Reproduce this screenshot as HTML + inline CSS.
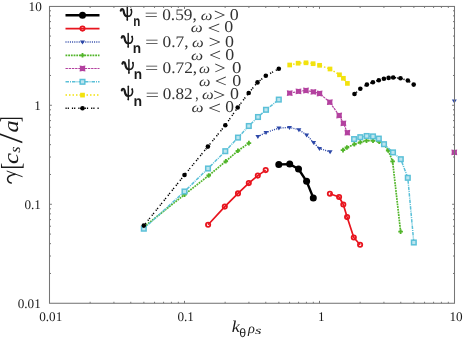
<!DOCTYPE html>
<html><head><meta charset="utf-8"><style>
html,body{margin:0;padding:0;background:#fff;}
svg{display:block;font-family:"Liberation Serif",serif;text-rendering:geometricPrecision;will-change:transform;}
</style></head><body>
<svg width="463" height="341" viewBox="0 0 463 341">
<rect width="463" height="341" fill="#fff"/>
<text transform="translate(28.54,11.20) scale(1.000,1)" font-size="13.20" font-family="Liberation Serif" fill="#1a1a1a">10</text>
<text transform="translate(34.34,109.70) scale(1.000,1)" font-size="13.20" font-family="Liberation Serif" fill="#1a1a1a">1</text>
<text transform="translate(24.40,209.00) scale(1.000,1)" font-size="13.20" font-family="Liberation Serif" fill="#1a1a1a">0.1</text>
<text transform="translate(17.70,307.80) scale(1.000,1)" font-size="13.20" font-family="Liberation Serif" fill="#1a1a1a">0.01</text>
<text transform="translate(39.20,321.20) scale(1.000,1)" font-size="13.20" font-family="Liberation Serif" fill="#1a1a1a">0.01</text>
<text transform="translate(177.40,321.20) scale(1.000,1)" font-size="13.20" font-family="Liberation Serif" fill="#1a1a1a">0.1</text>
<text transform="translate(317.94,320.80) scale(1.000,1)" font-size="13.20" font-family="Liberation Serif" fill="#1a1a1a">1</text>
<text transform="translate(449.44,320.80) scale(1.000,1)" font-size="13.20" font-family="Liberation Serif" fill="#1a1a1a">10</text>
<text transform="translate(231.78,332.00) scale(1.105,1)" font-size="16.43" font-family="Liberation Serif" font-style="italic" fill="#1a1a1a">k</text>
<text transform="translate(239.36,337.48) scale(1.009,1)" font-size="12.26" font-family="Liberation Sans" fill="#1a1a1a">θ</text>
<text transform="translate(247.96,333.00) scale(1.017,1)" font-size="14.07" font-family="Liberation Serif" font-style="italic" fill="#1a1a1a">ρ</text>
<text transform="translate(255.00,334.29) scale(1.490,1)" font-size="11.23" font-family="Liberation Serif" font-style="italic" fill="#1a1a1a">s</text>
<g transform="translate(17.6,184) rotate(-90)"><path d="M12.9 -10.5L7.4 4.6" stroke="#1a1a1a" stroke-width="0.95" fill="none" stroke-linecap="round"/><path d="M0.9 -6.4C1.6 -9.4 4.4 -10.9 6.6 -9.6C8.6 -8.3 9.2 -5.2 9.7 -2.6" stroke="#1a1a1a" stroke-width="1.5" fill="none" stroke-linecap="round"/><text transform="translate(14.50,2.13) scale(0.737,1)" font-size="27.43" font-family="Liberation Serif" fill="#1a1a1a">[</text><text transform="translate(20.04,-0.01) scale(1.172,1)" font-size="21.21" font-family="Liberation Serif" font-style="italic" fill="#1a1a1a">c</text><text transform="translate(31.20,2.75) scale(1.064,1)" font-size="15.18" font-family="Liberation Serif" font-style="italic" fill="#1a1a1a">s</text><text transform="translate(40.80,4.77) scale(1.070,1)" font-size="33.64" font-family="Liberation Serif" fill="#1a1a1a">/</text><text transform="translate(51.47,-0.02) scale(1.155,1)" font-size="21.21" font-family="Liberation Serif" font-style="italic" fill="#1a1a1a">a</text><text transform="translate(62.02,1.46) scale(0.595,1)" font-size="27.19" font-family="Liberation Serif" fill="#1a1a1a">]</text></g>
<path d="M65.5 15.3H99.5" fill="none" stroke="#000000" stroke-width="2.4"/>
<circle cx="82.50" cy="15.30" r="3.5" fill="#000000"/>
<path d="M65.5 28.6H99.5" fill="none" stroke="#e8141e" stroke-width="1.7"/>
<circle cx="82.50" cy="28.60" r="2.15" fill="none" stroke="#e8141e" stroke-width="1.8"/>
<path d="M65.5 42.0H99.5" fill="none" stroke="#2d48a8" stroke-width="1.4" stroke-dasharray="1 1.2"/>
<path d="M80.00 40.50h5.00l-2.50 4.00z" fill="#2d48a8"/>
<path d="M65.5 55.3H99.5" fill="none" stroke="#52b52a" stroke-width="1.7" stroke-dasharray="1.8 0.9"/>
<path d="M80.20 55.30h4.60M82.50 53.00v4.60" stroke="#52b52a" stroke-width="1.8"/>
<path d="M65.5 68.5H99.5" fill="none" stroke="#b3419f" stroke-width="1.2" stroke-dasharray="2.4 0.8"/>
<path d="M79.60 65.60Q82.50 66.50 85.40 65.60Q84.50 68.50 85.40 71.40Q82.50 70.50 79.60 71.40Q80.50 68.50 79.60 65.60z" fill="#b3419f"/>
<path d="M65.5 81.8H99.5" fill="none" stroke="#5bc0d8" stroke-width="1.5" stroke-dasharray="3.5 1 1 1"/>
<rect x="80.20" y="79.50" width="4.60" height="4.60" fill="#bde5ef" stroke="#5bc0d8" stroke-width="1.5"/>
<path d="M65.5 95.1H99.5" fill="none" stroke="#f2e20e" stroke-width="1.5" stroke-dasharray="1.5 2"/>
<rect x="80.15" y="92.75" width="4.70" height="4.70" fill="#f2e20e"/>
<path d="M65.5 108.3H99.5" fill="none" stroke="#000000" stroke-width="1.5" stroke-dasharray="1.2 1 1.2 3"/>
<circle cx="82.50" cy="108.30" r="2.3" fill="#000000"/>
<g transform="translate(120.30,19.60)" fill="none" stroke="#1a1a1a" stroke-linecap="round"><path d="M7.0 -13.0V0.4" stroke-width="1.5"/><path d="M6.75 0.2H7.25" stroke-width="1.2"/><path d="M0.5 -9.0C0.9 -11.0 2.9 -11.2 3.3 -8.8C3.7 -5.9 4.3 -3.3 7.0 -3.3" stroke-width="2.2"/><path d="M11.0 -10.2C11.7 -7.4 11.3 -3.3 7.6 -3.3" stroke-width="1.5"/><circle cx="10.9" cy="-9.9" r="0.85" fill="#1a1a1a" stroke="none"/></g>
<text transform="translate(133.24,25.80) scale(0.801,1)" font-size="14.48" font-family="Liberation Sans" font-weight="bold" fill="#1a1a1a">n</text>
<text transform="translate(144.61,20.31) scale(1.491,1)" font-size="16.00" font-family="Liberation Serif" fill="#333333">=</text>
<text transform="translate(162.14,19.60) scale(1.070,1)" font-size="16.20" font-family="Liberation Serif" fill="#333333">0.59,</text>
<text transform="translate(200.65,19.66) scale(1.181,1)" font-size="14.00" font-family="Liberation Serif" font-style="italic" fill="#333333">ω</text>
<text transform="translate(213.73,21.06) scale(1.155,1)" font-size="18.24" font-family="Liberation Serif" fill="#333333">></text>
<text transform="translate(229.72,19.64) scale(1.090,1)" font-size="16.45" font-family="Liberation Serif" fill="#333333">0</text>
<text transform="translate(190.64,32.26) scale(1.204,1)" font-size="14.00" font-family="Liberation Serif" font-style="italic" fill="#333333">ω</text>
<text transform="translate(207.47,33.66) scale(1.249,1)" font-size="18.24" font-family="Liberation Serif" fill="#333333"><</text>
<text transform="translate(224.32,32.24) scale(1.090,1)" font-size="16.45" font-family="Liberation Serif" fill="#333333">0</text>
<g transform="translate(121.20,46.60)" fill="none" stroke="#1a1a1a" stroke-linecap="round"><path d="M7.0 -13.0V0.4" stroke-width="1.5"/><path d="M6.75 0.2H7.25" stroke-width="1.2"/><path d="M0.5 -9.0C0.9 -11.0 2.9 -11.2 3.3 -8.8C3.7 -5.9 4.3 -3.3 7.0 -3.3" stroke-width="2.2"/><path d="M11.0 -10.2C11.7 -7.4 11.3 -3.3 7.6 -3.3" stroke-width="1.5"/><circle cx="10.9" cy="-9.9" r="0.85" fill="#1a1a1a" stroke="none"/></g>
<text transform="translate(132.70,52.80) scale(0.944,1)" font-size="14.48" font-family="Liberation Sans" font-weight="bold" fill="#1a1a1a">n</text>
<text transform="translate(144.89,47.31) scale(1.518,1)" font-size="16.00" font-family="Liberation Serif" fill="#333333">=</text>
<text transform="translate(162.54,46.60) scale(1.070,1)" font-size="16.20" font-family="Liberation Serif" fill="#333333">0.7,</text>
<text transform="translate(192.05,46.66) scale(1.181,1)" font-size="14.00" font-family="Liberation Serif" font-style="italic" fill="#333333">ω</text>
<text transform="translate(208.47,48.06) scale(1.225,1)" font-size="18.24" font-family="Liberation Serif" fill="#333333">></text>
<text transform="translate(224.92,46.64) scale(1.090,1)" font-size="16.45" font-family="Liberation Serif" fill="#333333">0</text>
<text transform="translate(191.03,59.56) scale(1.226,1)" font-size="14.00" font-family="Liberation Serif" font-style="italic" fill="#333333">ω</text>
<text transform="translate(208.93,60.96) scale(1.178,1)" font-size="18.24" font-family="Liberation Serif" fill="#333333"><</text>
<text transform="translate(225.32,59.54) scale(1.090,1)" font-size="16.45" font-family="Liberation Serif" fill="#333333">0</text>
<g transform="translate(121.90,72.70)" fill="none" stroke="#1a1a1a" stroke-linecap="round"><path d="M7.0 -13.0V0.4" stroke-width="1.5"/><path d="M6.75 0.2H7.25" stroke-width="1.2"/><path d="M0.5 -9.0C0.9 -11.0 2.9 -11.2 3.3 -8.8C3.7 -5.9 4.3 -3.3 7.0 -3.3" stroke-width="2.2"/><path d="M11.0 -10.2C11.7 -7.4 11.3 -3.3 7.6 -3.3" stroke-width="1.5"/><circle cx="10.9" cy="-9.9" r="0.85" fill="#1a1a1a" stroke="none"/></g>
<text transform="translate(133.70,78.90) scale(0.944,1)" font-size="14.48" font-family="Liberation Sans" font-weight="bold" fill="#1a1a1a">n</text>
<text transform="translate(144.92,73.41) scale(1.477,1)" font-size="16.00" font-family="Liberation Serif" fill="#333333">=</text>
<text transform="translate(162.54,72.70) scale(1.070,1)" font-size="16.20" font-family="Liberation Serif" fill="#333333">0.72,</text>
<text transform="translate(199.08,72.76) scale(1.113,1)" font-size="14.00" font-family="Liberation Serif" font-style="italic" fill="#333333">ω</text>
<text transform="translate(214.17,74.16) scale(1.107,1)" font-size="18.24" font-family="Liberation Serif" fill="#333333">></text>
<text transform="translate(231.88,72.74) scale(1.148,1)" font-size="16.45" font-family="Liberation Serif" fill="#333333">0</text>
<text transform="translate(199.06,85.96) scale(1.158,1)" font-size="14.00" font-family="Liberation Serif" font-style="italic" fill="#333333">ω</text>
<text transform="translate(214.73,87.36) scale(1.178,1)" font-size="18.24" font-family="Liberation Serif" fill="#333333"><</text>
<text transform="translate(232.32,85.94) scale(1.090,1)" font-size="16.45" font-family="Liberation Serif" fill="#333333">0</text>
<g transform="translate(121.30,99.30)" fill="none" stroke="#1a1a1a" stroke-linecap="round"><path d="M7.0 -13.0V0.4" stroke-width="1.5"/><path d="M6.75 0.2H7.25" stroke-width="1.2"/><path d="M0.5 -9.0C0.9 -11.0 2.9 -11.2 3.3 -8.8C3.7 -5.9 4.3 -3.3 7.0 -3.3" stroke-width="2.2"/><path d="M11.0 -10.2C11.7 -7.4 11.3 -3.3 7.6 -3.3" stroke-width="1.5"/><circle cx="10.9" cy="-9.9" r="0.85" fill="#1a1a1a" stroke="none"/></g>
<text transform="translate(133.47,105.50) scale(0.972,1)" font-size="14.48" font-family="Liberation Sans" font-weight="bold" fill="#1a1a1a">n</text>
<text transform="translate(145.40,100.01) scale(1.504,1)" font-size="16.00" font-family="Liberation Serif" fill="#333333">=</text>
<text transform="translate(162.65,99.30) scale(1.060,1)" font-size="16.20" font-family="Liberation Serif" fill="#333333">0.82</text>
<text transform="translate(195.19,99.28) scale(0.821,1)" font-size="16.35" font-family="Liberation Serif" fill="#333333">,</text>
<text transform="translate(202.05,99.36) scale(1.181,1)" font-size="14.00" font-family="Liberation Serif" font-style="italic" fill="#333333">ω</text>
<text transform="translate(213.09,100.76) scale(1.202,1)" font-size="18.24" font-family="Liberation Serif" fill="#333333">></text>
<text transform="translate(229.92,99.34) scale(1.090,1)" font-size="16.45" font-family="Liberation Serif" fill="#333333">0</text>
<text transform="translate(191.54,112.26) scale(1.215,1)" font-size="14.00" font-family="Liberation Serif" font-style="italic" fill="#333333">ω</text>
<text transform="translate(208.04,113.66) scale(1.272,1)" font-size="18.24" font-family="Liberation Serif" fill="#333333"><</text>
<text transform="translate(225.14,112.24) scale(1.061,1)" font-size="16.45" font-family="Liberation Serif" fill="#333333">0</text>
<path d="M278.80 164.40L289.70 164.10L298.50 169.00L306.60 181.30L313.30 197.90" fill="none" stroke="#000000" stroke-width="2.4" stroke-linejoin="round"/>
<circle cx="278.80" cy="164.40" r="3.5" fill="#000000"/>
<circle cx="289.70" cy="164.10" r="3.5" fill="#000000"/>
<circle cx="298.50" cy="169.00" r="3.5" fill="#000000"/>
<circle cx="306.60" cy="181.30" r="3.5" fill="#000000"/>
<circle cx="313.30" cy="197.90" r="3.5" fill="#000000"/>
<path d="M208.10 224.80L224.80 206.60L238.00 193.40L248.80 183.10L257.80 175.60L265.70 170.10" fill="none" stroke="#e8141e" stroke-width="1.7" stroke-linejoin="round"/>
<circle cx="208.10" cy="224.80" r="2.15" fill="none" stroke="#e8141e" stroke-width="1.8"/>
<circle cx="224.80" cy="206.60" r="2.15" fill="none" stroke="#e8141e" stroke-width="1.8"/>
<circle cx="238.00" cy="193.40" r="2.15" fill="none" stroke="#e8141e" stroke-width="1.8"/>
<circle cx="248.80" cy="183.10" r="2.15" fill="none" stroke="#e8141e" stroke-width="1.8"/>
<circle cx="257.80" cy="175.60" r="2.15" fill="none" stroke="#e8141e" stroke-width="1.8"/>
<circle cx="265.70" cy="170.10" r="2.15" fill="none" stroke="#e8141e" stroke-width="1.8"/>
<path d="M329.90 193.80L339.10 197.00L343.30 204.50L347.10 217.10L353.80 237.50L360.10 244.70" fill="none" stroke="#e8141e" stroke-width="1.7" stroke-linejoin="round"/>
<circle cx="329.90" cy="193.80" r="2.15" fill="none" stroke="#e8141e" stroke-width="1.8"/>
<circle cx="339.10" cy="197.00" r="2.15" fill="none" stroke="#e8141e" stroke-width="1.8"/>
<circle cx="343.30" cy="204.50" r="2.15" fill="none" stroke="#e8141e" stroke-width="1.8"/>
<circle cx="347.10" cy="217.10" r="2.15" fill="none" stroke="#e8141e" stroke-width="1.8"/>
<circle cx="353.80" cy="237.50" r="2.15" fill="none" stroke="#e8141e" stroke-width="1.8"/>
<circle cx="360.10" cy="244.70" r="2.15" fill="none" stroke="#e8141e" stroke-width="1.8"/>
<path d="M257.90 136.60L266.00 132.50L278.90 128.10L289.50 127.40L298.90 129.70L306.60 134.90L313.60 142.60L319.50 148.50L330.10 151.80" fill="none" stroke="#2d48a8" stroke-width="1.4" stroke-linejoin="round" stroke-dasharray="1 1.2"/>
<path d="M255.40 135.10h5.00l-2.50 4.00z" fill="#2d48a8"/>
<path d="M263.50 131.00h5.00l-2.50 4.00z" fill="#2d48a8"/>
<path d="M276.40 126.60h5.00l-2.50 4.00z" fill="#2d48a8"/>
<path d="M287.00 125.90h5.00l-2.50 4.00z" fill="#2d48a8"/>
<path d="M296.40 128.20h5.00l-2.50 4.00z" fill="#2d48a8"/>
<path d="M304.10 133.40h5.00l-2.50 4.00z" fill="#2d48a8"/>
<path d="M311.10 141.10h5.00l-2.50 4.00z" fill="#2d48a8"/>
<path d="M317.00 147.00h5.00l-2.50 4.00z" fill="#2d48a8"/>
<path d="M327.60 150.30h5.00l-2.50 4.00z" fill="#2d48a8"/>
<path d="M451.80 99.50h5.00l-2.50 4.00z" fill="#2d48a8"/>
<path d="M143.80 227.00L184.50 194.60L208.70 175.50L225.80 161.30L237.90 150.80L248.90 143.10" fill="none" stroke="#52b52a" stroke-width="1.7" stroke-linejoin="round" stroke-dasharray="1.8 0.9"/>
<path d="M141.50 227.00h4.60M143.80 224.70v4.60" stroke="#52b52a" stroke-width="1.8"/>
<path d="M182.20 194.60h4.60M184.50 192.30v4.60" stroke="#52b52a" stroke-width="1.8"/>
<path d="M206.40 175.50h4.60M208.70 173.20v4.60" stroke="#52b52a" stroke-width="1.8"/>
<path d="M223.50 161.30h4.60M225.80 159.00v4.60" stroke="#52b52a" stroke-width="1.8"/>
<path d="M235.60 150.80h4.60M237.90 148.50v4.60" stroke="#52b52a" stroke-width="1.8"/>
<path d="M246.60 143.10h4.60M248.90 140.80v4.60" stroke="#52b52a" stroke-width="1.8"/>
<path d="M343.00 150.10L346.90 147.50L354.30 144.30L360.30 142.30L366.50 140.60L373.00 140.60L379.20 141.80L384.00 144.40L388.20 150.50L392.60 161.40L400.60 231.60" fill="none" stroke="#52b52a" stroke-width="1.7" stroke-linejoin="round" stroke-dasharray="1.8 0.9"/>
<path d="M340.70 150.10h4.60M343.00 147.80v4.60" stroke="#52b52a" stroke-width="1.8"/>
<path d="M344.60 147.50h4.60M346.90 145.20v4.60" stroke="#52b52a" stroke-width="1.8"/>
<path d="M352.00 144.30h4.60M354.30 142.00v4.60" stroke="#52b52a" stroke-width="1.8"/>
<path d="M358.00 142.30h4.60M360.30 140.00v4.60" stroke="#52b52a" stroke-width="1.8"/>
<path d="M364.20 140.60h4.60M366.50 138.30v4.60" stroke="#52b52a" stroke-width="1.8"/>
<path d="M370.70 140.60h4.60M373.00 138.30v4.60" stroke="#52b52a" stroke-width="1.8"/>
<path d="M376.90 141.80h4.60M379.20 139.50v4.60" stroke="#52b52a" stroke-width="1.8"/>
<path d="M381.70 144.40h4.60M384.00 142.10v4.60" stroke="#52b52a" stroke-width="1.8"/>
<path d="M385.90 150.50h4.60M388.20 148.20v4.60" stroke="#52b52a" stroke-width="1.8"/>
<path d="M390.30 161.40h4.60M392.60 159.10v4.60" stroke="#52b52a" stroke-width="1.8"/>
<path d="M398.30 231.60h4.60M400.60 229.30v4.60" stroke="#52b52a" stroke-width="1.8"/>
<path d="M289.70 93.10L298.50 91.40L306.00 90.50L313.40 91.90L319.60 93.50L329.80 102.20L339.20 115.50L343.40 123.30L347.40 132.70" fill="none" stroke="#b3419f" stroke-width="1.2" stroke-linejoin="round" stroke-dasharray="2.4 0.8"/>
<path d="M286.80 90.20Q289.70 91.10 292.60 90.20Q291.70 93.10 292.60 96.00Q289.70 95.10 286.80 96.00Q287.70 93.10 286.80 90.20z" fill="#b3419f"/>
<path d="M295.60 88.50Q298.50 89.40 301.40 88.50Q300.50 91.40 301.40 94.30Q298.50 93.40 295.60 94.30Q296.50 91.40 295.60 88.50z" fill="#b3419f"/>
<path d="M303.10 87.60Q306.00 88.50 308.90 87.60Q308.00 90.50 308.90 93.40Q306.00 92.50 303.10 93.40Q304.00 90.50 303.10 87.60z" fill="#b3419f"/>
<path d="M310.50 89.00Q313.40 89.90 316.30 89.00Q315.40 91.90 316.30 94.80Q313.40 93.90 310.50 94.80Q311.40 91.90 310.50 89.00z" fill="#b3419f"/>
<path d="M316.70 90.60Q319.60 91.50 322.50 90.60Q321.60 93.50 322.50 96.40Q319.60 95.50 316.70 96.40Q317.60 93.50 316.70 90.60z" fill="#b3419f"/>
<path d="M326.90 99.30Q329.80 100.20 332.70 99.30Q331.80 102.20 332.70 105.10Q329.80 104.20 326.90 105.10Q327.80 102.20 326.90 99.30z" fill="#b3419f"/>
<path d="M336.30 112.60Q339.20 113.50 342.10 112.60Q341.20 115.50 342.10 118.40Q339.20 117.50 336.30 118.40Q337.20 115.50 336.30 112.60z" fill="#b3419f"/>
<path d="M340.50 120.40Q343.40 121.30 346.30 120.40Q345.40 123.30 346.30 126.20Q343.40 125.30 340.50 126.20Q341.40 123.30 340.50 120.40z" fill="#b3419f"/>
<path d="M344.50 129.80Q347.40 130.70 350.30 129.80Q349.40 132.70 350.30 135.60Q347.40 134.70 344.50 135.60Q345.40 132.70 344.50 129.80z" fill="#b3419f"/>
<path d="M451.40 149.50Q454.30 150.40 457.20 149.50Q456.30 152.40 457.20 155.30Q454.30 154.40 451.40 155.30Q452.30 152.40 451.40 149.50z" fill="#b3419f"/>
<path d="M143.80 228.70L184.50 191.50L208.00 168.50L225.30 151.20L238.00 137.60L248.80 126.00L258.00 117.00L266.00 109.80L278.80 99.60" fill="none" stroke="#5bc0d8" stroke-width="1.5" stroke-linejoin="round" stroke-dasharray="3.5 1 1 1"/>
<rect x="141.50" y="226.40" width="4.60" height="4.60" fill="#bde5ef" stroke="#5bc0d8" stroke-width="1.5"/>
<rect x="182.20" y="189.20" width="4.60" height="4.60" fill="#bde5ef" stroke="#5bc0d8" stroke-width="1.5"/>
<rect x="205.70" y="166.20" width="4.60" height="4.60" fill="#bde5ef" stroke="#5bc0d8" stroke-width="1.5"/>
<rect x="223.00" y="148.90" width="4.60" height="4.60" fill="#bde5ef" stroke="#5bc0d8" stroke-width="1.5"/>
<rect x="235.70" y="135.30" width="4.60" height="4.60" fill="#bde5ef" stroke="#5bc0d8" stroke-width="1.5"/>
<rect x="246.50" y="123.70" width="4.60" height="4.60" fill="#bde5ef" stroke="#5bc0d8" stroke-width="1.5"/>
<rect x="255.70" y="114.70" width="4.60" height="4.60" fill="#bde5ef" stroke="#5bc0d8" stroke-width="1.5"/>
<rect x="263.70" y="107.50" width="4.60" height="4.60" fill="#bde5ef" stroke="#5bc0d8" stroke-width="1.5"/>
<rect x="276.50" y="97.30" width="4.60" height="4.60" fill="#bde5ef" stroke="#5bc0d8" stroke-width="1.5"/>
<path d="M354.10 139.10L360.30 137.20L366.70 136.00L373.00 136.40L378.80 138.60L384.00 144.20L393.00 152.40L400.80 159.20L407.80 177.80L413.80 242.50" fill="none" stroke="#5bc0d8" stroke-width="1.5" stroke-linejoin="round" stroke-dasharray="3.5 1 1 1"/>
<rect x="351.80" y="136.80" width="4.60" height="4.60" fill="#bde5ef" stroke="#5bc0d8" stroke-width="1.5"/>
<rect x="358.00" y="134.90" width="4.60" height="4.60" fill="#bde5ef" stroke="#5bc0d8" stroke-width="1.5"/>
<rect x="364.40" y="133.70" width="4.60" height="4.60" fill="#bde5ef" stroke="#5bc0d8" stroke-width="1.5"/>
<rect x="370.70" y="134.10" width="4.60" height="4.60" fill="#bde5ef" stroke="#5bc0d8" stroke-width="1.5"/>
<rect x="376.50" y="136.30" width="4.60" height="4.60" fill="#bde5ef" stroke="#5bc0d8" stroke-width="1.5"/>
<rect x="381.70" y="141.90" width="4.60" height="4.60" fill="#bde5ef" stroke="#5bc0d8" stroke-width="1.5"/>
<rect x="390.70" y="150.10" width="4.60" height="4.60" fill="#bde5ef" stroke="#5bc0d8" stroke-width="1.5"/>
<rect x="398.50" y="156.90" width="4.60" height="4.60" fill="#bde5ef" stroke="#5bc0d8" stroke-width="1.5"/>
<rect x="405.50" y="175.50" width="4.60" height="4.60" fill="#bde5ef" stroke="#5bc0d8" stroke-width="1.5"/>
<rect x="411.50" y="240.20" width="4.60" height="4.60" fill="#bde5ef" stroke="#5bc0d8" stroke-width="1.5"/>
<path d="M289.70 65.00L298.10 63.20L306.00 62.80L313.10 63.70L319.60 65.30L330.00 69.00L339.50 74.80L343.40 78.30L347.40 83.40" fill="none" stroke="#f2e20e" stroke-width="1.5" stroke-linejoin="round" stroke-dasharray="1.5 2"/>
<rect x="287.35" y="62.65" width="4.70" height="4.70" fill="#f2e20e"/>
<rect x="295.75" y="60.85" width="4.70" height="4.70" fill="#f2e20e"/>
<rect x="303.65" y="60.45" width="4.70" height="4.70" fill="#f2e20e"/>
<rect x="310.75" y="61.35" width="4.70" height="4.70" fill="#f2e20e"/>
<rect x="317.25" y="62.95" width="4.70" height="4.70" fill="#f2e20e"/>
<rect x="327.65" y="66.65" width="4.70" height="4.70" fill="#f2e20e"/>
<rect x="337.15" y="72.45" width="4.70" height="4.70" fill="#f2e20e"/>
<rect x="341.05" y="75.95" width="4.70" height="4.70" fill="#f2e20e"/>
<rect x="345.05" y="81.05" width="4.70" height="4.70" fill="#f2e20e"/>
<path d="M143.80 225.60L184.50 175.00L207.90 146.60L225.30 125.30L237.70 107.50L248.70 93.00L257.50 82.40L265.80 75.80L278.80 68.80" fill="none" stroke="#000000" stroke-width="1.5" stroke-linejoin="round" stroke-dasharray="1.2 1 1.2 3"/>
<circle cx="143.80" cy="225.60" r="2.3" fill="#000000"/>
<circle cx="184.50" cy="175.00" r="2.3" fill="#000000"/>
<circle cx="207.90" cy="146.60" r="2.3" fill="#000000"/>
<circle cx="225.30" cy="125.30" r="2.3" fill="#000000"/>
<circle cx="237.70" cy="107.50" r="2.3" fill="#000000"/>
<circle cx="248.70" cy="93.00" r="2.3" fill="#000000"/>
<circle cx="257.50" cy="82.40" r="2.3" fill="#000000"/>
<circle cx="265.80" cy="75.80" r="2.3" fill="#000000"/>
<circle cx="278.80" cy="68.80" r="2.3" fill="#000000"/>
<path d="M354.50 94.00L360.30 88.80L366.90 84.60L372.90 82.20L378.80 80.20L383.90 78.80L388.60 77.90L393.20 77.50L400.50 78.30L407.80 80.50L413.70 84.60" fill="none" stroke="#000000" stroke-width="1.5" stroke-linejoin="round" stroke-dasharray="1.2 1 1.2 3"/>
<circle cx="354.50" cy="94.00" r="2.3" fill="#000000"/>
<circle cx="360.30" cy="88.80" r="2.3" fill="#000000"/>
<circle cx="366.90" cy="84.60" r="2.3" fill="#000000"/>
<circle cx="372.90" cy="82.20" r="2.3" fill="#000000"/>
<circle cx="378.80" cy="80.20" r="2.3" fill="#000000"/>
<circle cx="383.90" cy="78.80" r="2.3" fill="#000000"/>
<circle cx="388.60" cy="77.90" r="2.3" fill="#000000"/>
<circle cx="393.20" cy="77.50" r="2.3" fill="#000000"/>
<circle cx="400.50" cy="78.30" r="2.3" fill="#000000"/>
<circle cx="407.80" cy="80.50" r="2.3" fill="#000000"/>
<circle cx="413.70" cy="84.60" r="2.3" fill="#000000"/>
<rect x="49.5" y="6.45" width="405.0" height="296.82" fill="none" stroke="#767676" stroke-width="1.05"/>
<path d="M90.14 303.27v-1.5M90.14 6.45v1.5M49.5 273.47h1.5M454.5 273.47h-1.5M113.91 303.27v-1.5M113.91 6.45v1.5M49.5 256.03h1.5M454.5 256.03h-1.5M130.78 303.27v-1.5M130.78 6.45v1.5M49.5 243.67h1.5M454.5 243.67h-1.5M143.86 303.27v-1.5M143.86 6.45v1.5M49.5 234.07h1.5M454.5 234.07h-1.5M154.55 303.27v-1.5M154.55 6.45v1.5M49.5 226.23h1.5M454.5 226.23h-1.5M163.59 303.27v-1.5M163.59 6.45v1.5M49.5 219.61h1.5M454.5 219.61h-1.5M171.42 303.27v-1.5M171.42 6.45v1.5M49.5 213.86h1.5M454.5 213.86h-1.5M178.32 303.27v-1.5M178.32 6.45v1.5M49.5 208.80h1.5M454.5 208.80h-1.5M184.50 303.27v-2.4M184.50 6.45v2.4M49.5 204.27h2.4M454.5 204.27h-2.4M225.14 303.27v-1.5M225.14 6.45v1.5M49.5 174.47h1.5M454.5 174.47h-1.5M248.91 303.27v-1.5M248.91 6.45v1.5M49.5 157.03h1.5M454.5 157.03h-1.5M265.78 303.27v-1.5M265.78 6.45v1.5M49.5 144.67h1.5M454.5 144.67h-1.5M278.86 303.27v-1.5M278.86 6.45v1.5M49.5 135.07h1.5M454.5 135.07h-1.5M289.55 303.27v-1.5M289.55 6.45v1.5M49.5 127.23h1.5M454.5 127.23h-1.5M298.59 303.27v-1.5M298.59 6.45v1.5M49.5 120.61h1.5M454.5 120.61h-1.5M306.42 303.27v-1.5M306.42 6.45v1.5M49.5 114.86h1.5M454.5 114.86h-1.5M313.32 303.27v-1.5M313.32 6.45v1.5M49.5 109.80h1.5M454.5 109.80h-1.5M319.50 303.27v-2.4M319.50 6.45v2.4M49.5 105.27h2.4M454.5 105.27h-2.4M360.14 303.27v-1.5M360.14 6.45v1.5M49.5 75.47h1.5M454.5 75.47h-1.5M383.91 303.27v-1.5M383.91 6.45v1.5M49.5 58.03h1.5M454.5 58.03h-1.5M400.78 303.27v-1.5M400.78 6.45v1.5M49.5 45.67h1.5M454.5 45.67h-1.5M413.86 303.27v-1.5M413.86 6.45v1.5M49.5 36.07h1.5M454.5 36.07h-1.5M424.55 303.27v-1.5M424.55 6.45v1.5M49.5 28.23h1.5M454.5 28.23h-1.5M433.59 303.27v-1.5M433.59 6.45v1.5M49.5 21.61h1.5M454.5 21.61h-1.5M441.42 303.27v-1.5M441.42 6.45v1.5M49.5 15.86h1.5M454.5 15.86h-1.5M448.32 303.27v-1.5M448.32 6.45v1.5M49.5 10.80h1.5M454.5 10.80h-1.5" stroke="#767676" stroke-width="1" fill="none"/>
</svg></body></html>
